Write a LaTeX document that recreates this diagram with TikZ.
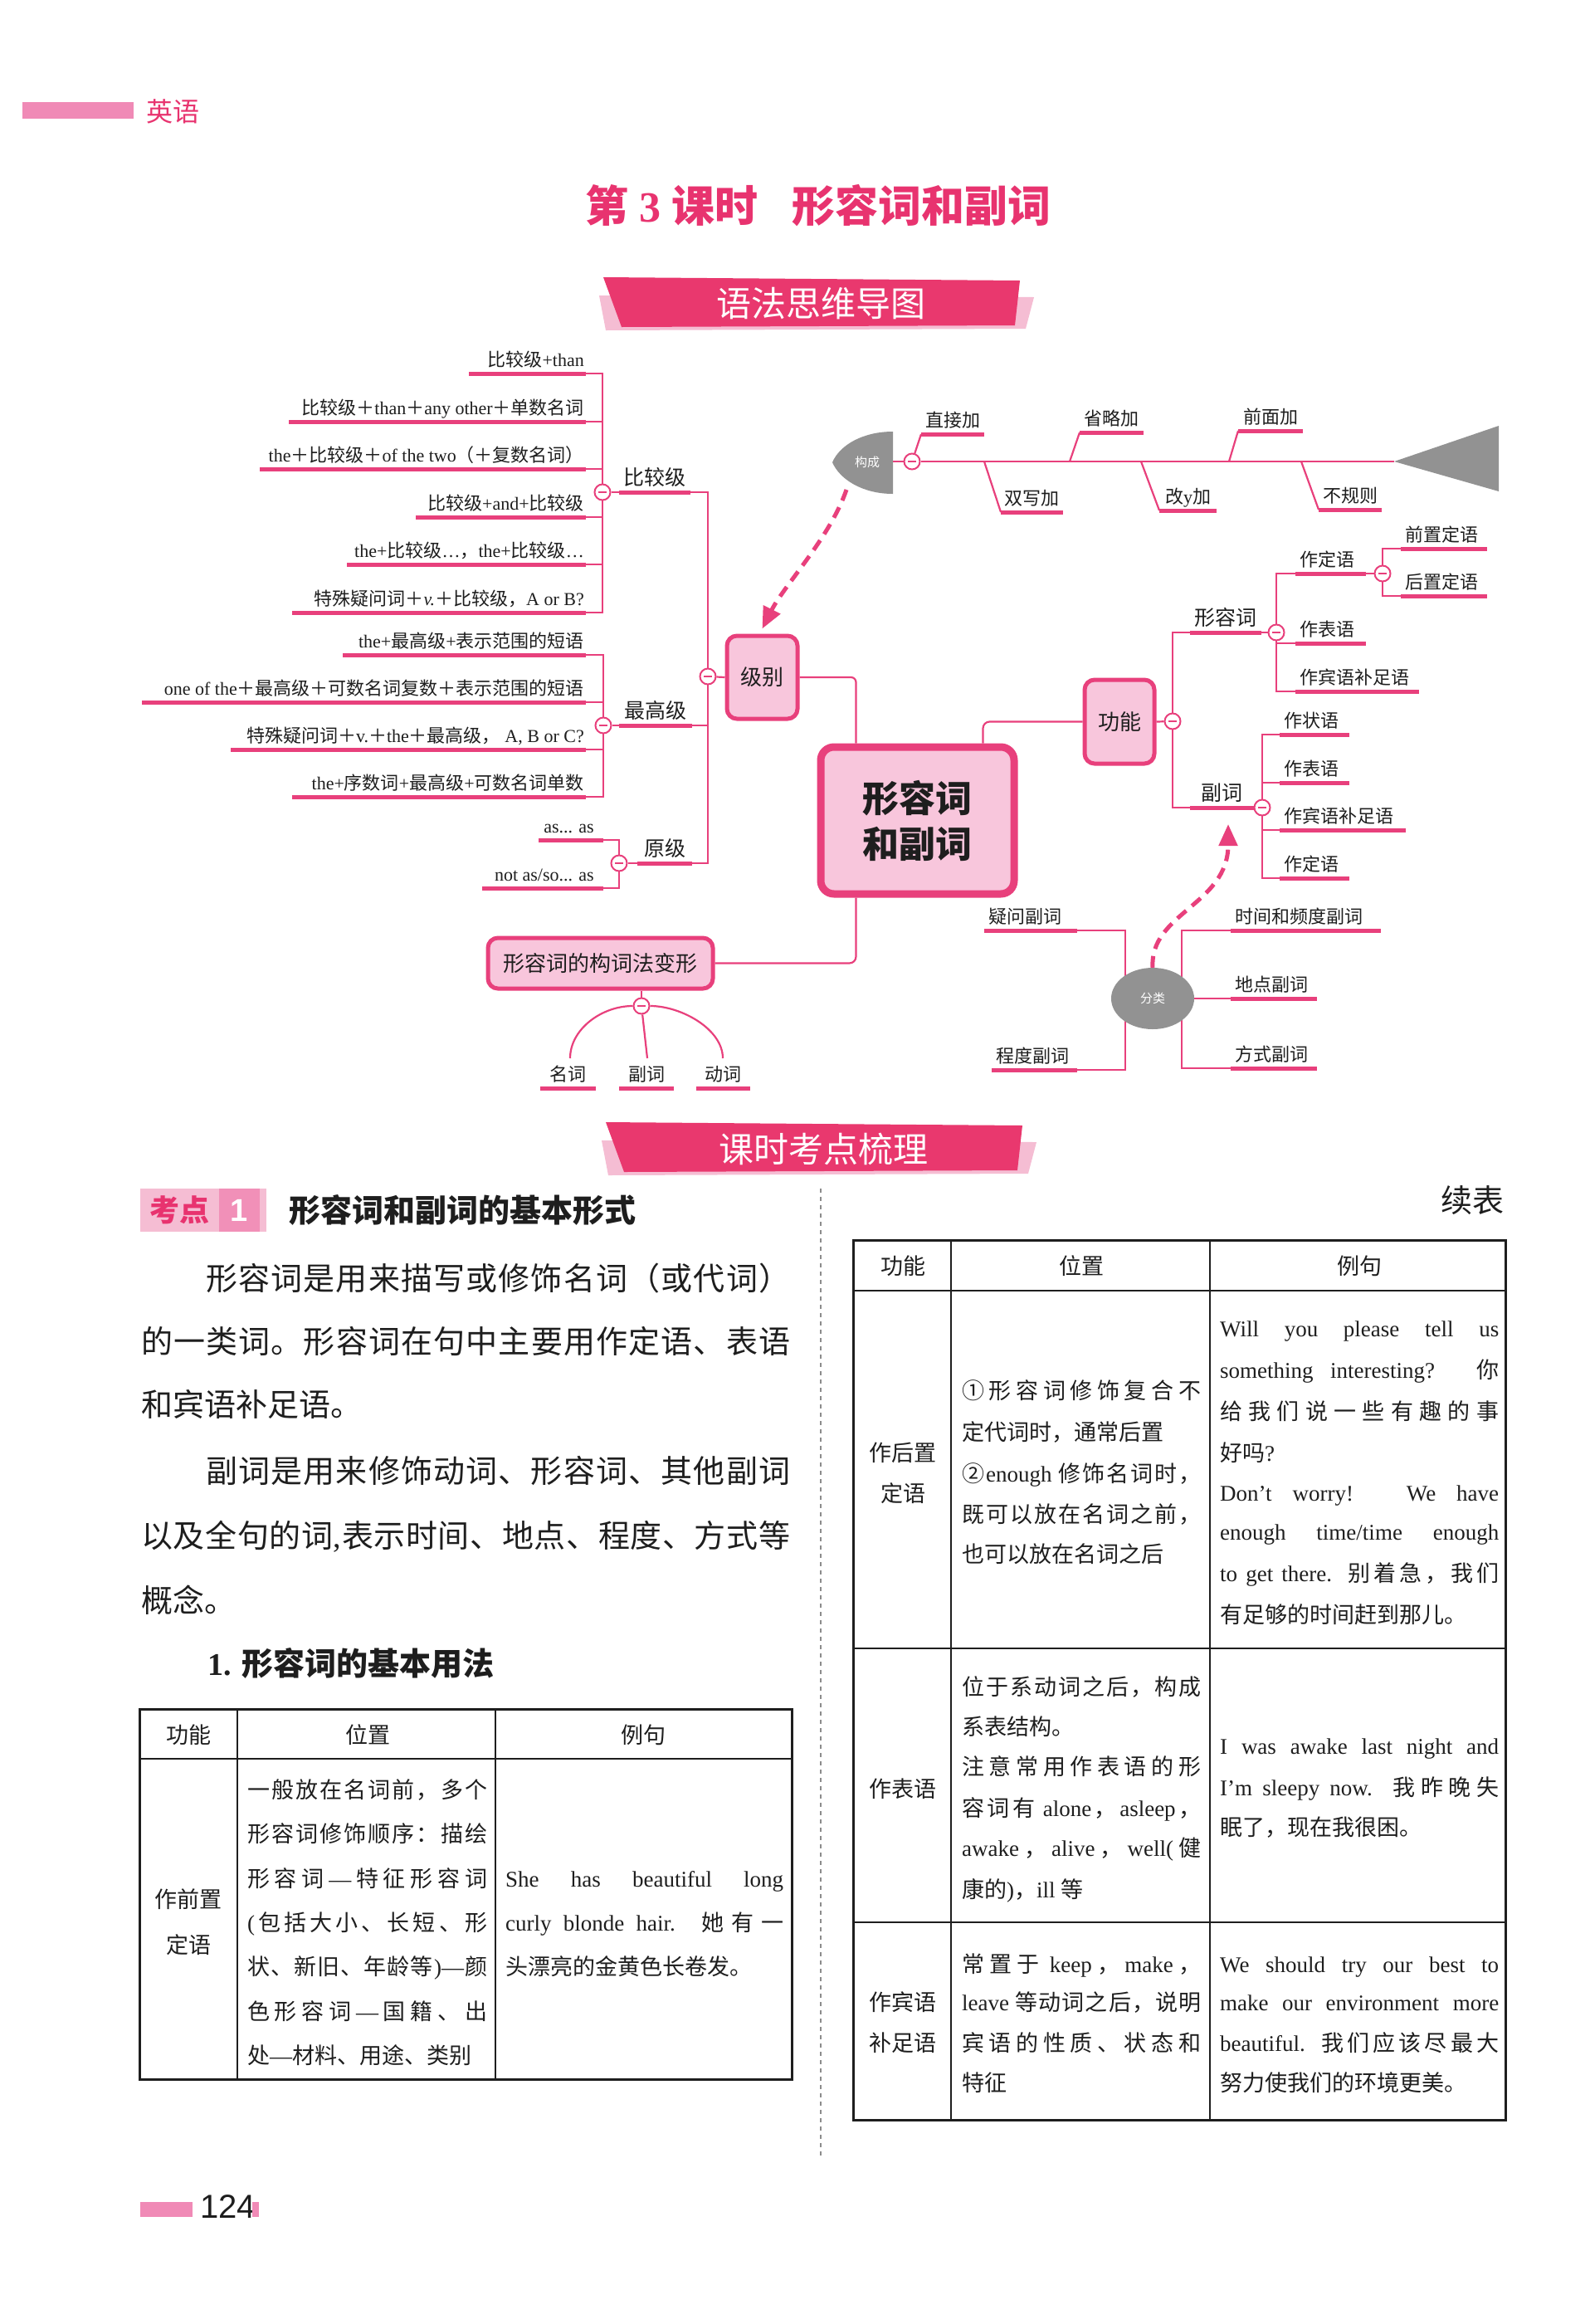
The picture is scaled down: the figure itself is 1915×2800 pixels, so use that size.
\documentclass[tikz,border=0pt]{standalone}
\usepackage{fontspec}
\setmainfont{Liberation Serif}
\newfontfamily\cjk{Noto Sans CJK SC}
\newfontfamily\lsans{Liberation Sans}
\usetikzlibrary{arrows.meta,shapes.geometric}
% ---- automatic CJK font switching ----
\XeTeXinterchartokenstate=1
\newXeTeXintercharclass\CJKcls
\newcount\cjkcnt
\newcommand\setcjkrange[2]{\cjkcnt=#1 \loop\XeTeXcharclass\cjkcnt=\CJKcls\relax\ifnum\cjkcnt<#2 \advance\cjkcnt by 1 \repeat}
\setcjkrange{"4E00}{"9FFF}
\setcjkrange{"3000}{"303F}
\setcjkrange{"FF00}{"FFEF}
\setcjkrange{"2460}{"24FF}
\XeTeXcharclass"2014=0 \XeTeXcharclass"2026=0 \XeTeXcharclass"2019=0
\XeTeXinterchartoks 0 \CJKcls = {\cjk\hskip0pt plus .15em\relax}
\XeTeXinterchartoks 4095 \CJKcls = {\cjk}
\XeTeXinterchartoks \CJKcls 0 = {\hskip0pt plus .15em\relax\rmfamily}
\XeTeXinterchartoks \CJKcls 4095 = {\rmfamily}
\XeTeXinterchartoks \CJKcls \CJKcls = {\hskip0pt plus .15em\relax}
% ---- colours ----
\definecolor{pk}{HTML}{E8407C}
\definecolor{pkfill}{HTML}{F8C6DC}
\definecolor{pktitle}{HTML}{E8336F}
\definecolor{pkban}{HTML}{E9386E}
\definecolor{pklight}{HTML}{F5BDD3}
\definecolor{pkbar}{HTML}{F08AB6}
\definecolor{pkmid}{HTML}{F190B8}
\definecolor{gshape}{HTML}{929292}
\definecolor{txt}{HTML}{1E1E1E}
\pgfdeclarelayer{bg}
\pgfdeclarelayer{paper}
\pgfsetlayers{paper,bg,main}
% ---- helpers ----
\newcommand\lleaf[5]{%
  \coordinate (#1-s) at (#2,#4);
  \coordinate (#1-e) at (#3,#4);
  \draw[uline] (#1-s) -- (#1-e);
  \node[leaf,anchor=base east] (#1) at (#3-2,#4-9) {#5};}
\newcommand\rleaf[5]{%
  \coordinate (#1-s) at (#2,#4);
  \coordinate (#1-e) at (#3,#4);
  \draw[uline] (#1-s) -- (#1-e);
  \node[leaf,anchor=base west] (#1) at (#2+5,#4-9) {#5};}
\newcommand\cleaf[6]{%
  \coordinate (#1-s) at (#2,#4);
  \coordinate (#1-e) at (#3,#4);
  \draw[uline] (#1-s) -- (#1-e);
  \node[#6,anchor=base] (#1) at ({(#2+#3)/2},#4-9) {#5};}
\newcounter{tln}
\newcommand\tj[4]{\stepcounter{tln}\node[tcell,anchor=base west] (tl\arabic{tln}) at (#1,#2) {\makebox[#3pt][s]{#4}};}
\newcommand\tn[3]{\stepcounter{tln}\node[tcell,anchor=base west] (tl\arabic{tln}) at (#1,#2) {#3};}
\newcommand\tc[3]{\stepcounter{tln}\node[tcell,anchor=base] (tl\arabic{tln}) at (#1,#2) {#3};}
\newcommand\pj[4]{\stepcounter{tln}\node[ptext,anchor=base west] (tl\arabic{tln}) at (#1,#2) {\makebox[#3pt][s]{#4}};}
\newcommand\pn[3]{\stepcounter{tln}\node[ptext,anchor=base west] (tl\arabic{tln}) at (#1,#2) {#3};}

\begin{document}
\begin{tikzpicture}[x=1pt,y=-1pt,
  conn/.style={draw=pk,line width=2.2pt},
  uline/.style={draw=pk,line width=5pt},
  leaf/.style={inner sep=0pt,text=txt,font=\fontsize{22}{24}\selectfont},
  lab/.style={inner sep=0pt,text=txt,font=\fontsize{25}{27}\selectfont},
  box/.style={draw=pk,line width=5pt,fill=pkfill,rounded corners=12pt,text=txt,font=\fontsize{26}{28}\selectfont,inner sep=0pt},
  cmk/.style={circle,draw=pk,line width=2pt,fill=white,minimum size=19pt,inner sep=0pt,
    path picture={\draw[pk,line width=2.2pt] ([xshift=-5pt]path picture bounding box.center) -- ([xshift=5pt]path picture bounding box.center);}},
  dasharrow/.style={draw=pk,line width=5pt,dash pattern=on 14pt off 9pt,-{Triangle[length=26pt,width=22pt]}},
  tcell/.style={inner sep=0pt,text=txt,font=\fontsize{27}{30}\selectfont},
  ptext/.style={inner sep=0pt,text=txt,font=\fontsize{38}{40}\selectfont}]
\useasboundingbox (0,0) rectangle (1915,2800);
\begin{pgfonlayer}{paper}
\fill[white] (0,0) rectangle (1915,2800);
\end{pgfonlayer}

% ---------- page header ----------
\fill[pkbar] (27,123) rectangle (161,143);
\node[anchor=west,text=pktitle,font=\fontsize{32}{32}\selectfont,inner sep=0pt] (subj) at (176,134) {英语};
\node[text=pktitle,font=\bfseries\fontsize{52}{52}\selectfont,inner sep=0pt] (title) at (986,248) {第 3 课时\hspace{42pt}形容词和副词};

% banner 1
\fill[pklight] (722,356) -- (1246,358) -- (1236,396) -- (730,398) -- cycle;
\fill[pkban] (727,334) -- (1229,338) -- (1223,392) -- (749,394) -- cycle;
\node[text=white,font=\fontsize{42}{42}\selectfont,inner sep=0pt] (ban1) at (989,366) {语法思维导图};

% ---------- mind map: left ----------
\lleaf{L1}{565}{706}{450}{比较级+than}
\lleaf{L2}{348}{706}{508}{比较级＋than＋any other＋单数名词}
\lleaf{L3}{313}{706}{565}{the＋比较级＋of the two（＋复数名词）}
\lleaf{L4}{501}{706}{623}{比较级+and+比较级}
\lleaf{L5}{418}{706}{680}{the+比较级…，the+比较级…}
\lleaf{L6}{352}{706}{738}{特殊疑问词＋\textit{v.}＋比较级，A or B?}
\lleaf{L7}{413}{706}{789}{the+最高级+表示范围的短语}
\lleaf{L8}{171}{706}{846}{one of the＋最高级＋可数名词复数＋表示范围的短语}
\lleaf{L9}{278}{706}{903}{特殊疑问词＋v.＋the＋最高级，\ A, B or C?}
\lleaf{L10}{352}{706}{960}{the+序数词+最高级+可数名词单数}
\coordinate (L11-s) at (649,1012); \coordinate (L11-e) at (727,1012);
\draw[uline] (L11-s) -- (L11-e);
\node[leaf,anchor=base east] (L11) at (716,1003) {as... as};
\coordinate (L12-s) at (581,1070); \coordinate (L12-e) at (727,1070);
\draw[uline] (L12-s) -- (L12-e);
\node[leaf,anchor=base east] (L12) at (716,1061) {not as/so... as};

\cleaf{BJ}{746}{832}{593}{比较级}{lab}
\cleaf{ZG}{746}{834}{874}{最高级}{lab}
\cleaf{YJ}{768}{834}{1040}{原级}{lab}

\node[cmk] (cA) at (726,593) {};
\node[cmk] (cB) at (727,874) {};
\node[cmk] (cC) at (746,1040) {};
\node[cmk] (cJ) at (853,815) {};

\node[box,minimum width=85pt,minimum height=100pt] (jibie) at (918.5,816) {级别};
\node[box,line width=9pt,rounded corners=16pt,minimum width=233pt,minimum height=177pt,font=\bfseries\fontsize{44}{55}\selectfont,align=center] (ctr) at (1105.5,988.5) {形容词\\和副词};
\node[box,minimum width=84pt,minimum height=101pt] (gn) at (1349,869.5) {功能};
\node[box,minimum width=271pt,minimum height=61pt] (gc) at (723.5,1160.5) {形容词的构词法变形};

% ---------- mind map: right (function) ----------
\cleaf{XR}{1434}{1520}{762}{形容词}{lab}
\cleaf{FR}{1434}{1511}{973}{副词}{lab}
\rleaf{ZD}{1561}{1646}{691}{作定语}
\rleaf{QZ}{1688}{1792}{661}{前置定语}
\rleaf{HZ}{1688}{1792}{718}{后置定语}
\rleaf{ZB}{1561}{1646}{775}{作表语}
\rleaf{ZBB}{1561}{1710}{833}{作宾语补足语}
\rleaf{FZ}{1542}{1626}{885}{作状语}
\rleaf{FB}{1542}{1626}{943}{作表语}
\rleaf{FBB}{1542}{1694}{1000}{作宾语补足语}
\rleaf{FD}{1542}{1626}{1058}{作定语}
\node[cmk] (cG) at (1413,869) {};
\node[cmk] (cX) at (1538,762) {};
\node[cmk] (cD) at (1666,691) {};
\node[cmk] (cF) at (1521,973) {};

% ---------- fishbone (构成) ----------
\fill[gshape] (1076,520) -- (1076,595) .. controls (1040,595) and (1012,578) .. (1003,557) .. controls (1012,536) and (1040,520) .. (1076,520) -- cycle;
\node[text=white,font=\fontsize{15}{15}\selectfont,inner sep=0pt] (gcl) at (1045,557) {构成};
\coordinate (gcR) at (1076,556);
\coordinate (gcB) at (1020,590);
\coordinate (tri) at (1680,556);
\fill[gshape] (tri) -- (1806,513) -- (1806,592) -- cycle;
\node[cmk] (cGC) at (1099,556) {};
\cleaf{ZJ}{1110}{1186}{523}{直接加}{leaf}
\cleaf{SL}{1301}{1378}{521}{省略加}{leaf}
\cleaf{QM}{1492}{1570}{519}{前面加}{leaf}
\cleaf{SX}{1206}{1281}{617}{双写加}{leaf}
\cleaf{GY}{1397}{1466}{615}{改y加}{leaf}
\cleaf{BG}{1589}{1665}{614}{不规则}{leaf}
\coordinate (f2) at (1289,556);
\coordinate (f3) at (1481,556);
\coordinate (f4) at (1186,556);
\coordinate (f5) at (1375,556);
\coordinate (f6) at (1568,556);

% ---------- 分类 ----------
\coordinate (flL) at (1356,1203);
\coordinate (flR) at (1424,1203);
\rleaf{YW}{1186}{1298}{1121}{疑问副词}
\rleaf{CD}{1195}{1298}{1289}{程度副词}
\rleaf{SJ}{1483}{1664}{1121}{时间和频度副词}
\rleaf{DD}{1483}{1587}{1203}{地点副词}
\rleaf{FS}{1483}{1587}{1287}{方式副词}
\coordinate (fuA) at (1480,993);

% ---------- 构词法 children ----------
\node[cmk] (cW) at (773,1212) {};
\cleaf{MC}{651}{718}{1311}{名词}{leaf}
\cleaf{FC}{746}{812}{1311}{副词}{leaf}
\cleaf{DC}{839}{904}{1311}{动词}{leaf}
\coordinate (MCt) at (687,1275);
\coordinate (FCt) at (780,1275);
\coordinate (DCt) at (871,1275);

% ---------- connectors ----------
\begin{pgfonlayer}{bg}
\draw[conn] (L1-e) -- (L1-e -| cA) -- (L6-e -| cA) -- (L6-e);
\foreach \n in {L2,L3,L4,L5} \draw[conn] (\n-e) -- (\n-e -| cA);
\draw[conn] (cA) -- (BJ-s);
\draw[conn] (L7-e) -- (L7-e -| cB) -- (L10-e -| cB) -- (L10-e);
\foreach \n in {L8,L9} \draw[conn] (\n-e) -- (\n-e -| cB);
\draw[conn] (cB) -- (ZG-s);
\draw[conn] (L11-e) -- (L11-e -| cC) -- (L12-e -| cC) -- (L12-e);
\draw[conn] (cC) -- (YJ-s);
\draw[conn] (BJ-e) -- (BJ-e -| cJ) -- (YJ-e -| cJ) -- (YJ-e);
\draw[conn] (ZG-e) -- (ZG-e -| cJ);
\draw[conn] (cJ) -- (jibie.west);
\draw[conn,rounded corners=6pt] (jibie.east) -| ([xshift=47pt]ctr.north west);
\draw[conn,rounded corners=8pt] ([xshift=-42pt]ctr.north east) |- (gn.west);
\draw[conn,rounded corners=8pt] ([xshift=47pt]ctr.south west) |- (gc.east);
% function side
\draw[conn] (gn.east) -- (cG);
\draw[conn] (XR-s) -- (XR-s -| cG) -- (FR-s -| cG) -- (FR-s);
\draw[conn] (XR-e) -- (cX);
\draw[conn] (ZD-s) -- (ZD-s -| cX) -- (ZBB-s -| cX) -- (ZBB-s);
\draw[conn] (ZB-s) -- (ZB-s -| cX);
\draw[conn] (ZD-e) -- (cD);
\draw[conn] (QZ-s) -- (QZ-s -| cD) -- (HZ-s -| cD) -- (HZ-s);
\draw[conn] (FR-e) -- (cF);
\draw[conn] (FZ-s) -- (FZ-s -| cF) -- (FD-s -| cF) -- (FD-s);
\draw[conn] (FB-s) -- (FB-s -| cF);
\draw[conn] (FBB-s) -- (FBB-s -| cF);
% fishbone
\draw[conn] (gcR) -- (cGC) -- (tri);
\draw[conn] (cGC) -- (ZJ-s);
\draw[conn] (f2) -- (SL-s);
\draw[conn] (f3) -- (QM-s);
\draw[conn] (f4) -- (SX-s);
\draw[conn] (f5) -- (GY-s);
\draw[conn] (f6) -- (BG-s);
% classification
\draw[conn] (YW-e) -- (YW-e -| flL) -- (CD-e -| flL) -- (CD-e);
\draw[conn] (SJ-s) -- (SJ-s -| flR) -- (FS-s -| flR) -- (FS-s);
\draw[conn] (flR) -- (DD-s);
% word formation
\draw[conn] (gc.south -| cW) -- (cW);
\draw[conn] (cW) .. controls (725,1212) and (687,1240) .. (MCt);
\draw[conn] (cW) -- (FCt);
\draw[conn] (cW) .. controls (821,1212) and (871,1240) .. (DCt);
\end{pgfonlayer}

\node[ellipse,fill=gshape,minimum width=100pt,minimum height=74pt,inner sep=0pt,text=white,font=\fontsize{15}{15}\selectfont] (fl) at (1389,1203) {分类};

\draw[dasharrow] (gcB) .. controls (1000,648) and (945,705) .. ([yshift=6pt]jibie.north);
\draw[dasharrow] (fl.north) .. controls (1385,1100) and (1480,1090) .. (fuA);

% ---------- section 2 ----------
\fill[pklight] (725,1374) -- (1249,1376) -- (1239,1414) -- (733,1416) -- cycle;
\fill[pkban] (730,1352) -- (1232,1356) -- (1226,1410) -- (752,1412) -- cycle;
\node[text=white,font=\fontsize{42}{42}\selectfont,inner sep=0pt] (ban2) at (992,1384) {课时考点梳理};

\fill[pklight] (169,1432) rectangle (321,1484);
\fill[pkmid] (264,1432) rectangle (313,1484);
\node[text=pktitle,font=\bfseries\fontsize{36}{36}\selectfont,inner sep=0pt] (kd) at (216,1458) {考点};
\node[text=white,font=\lsans\bfseries\fontsize{38}{38}\selectfont,inner sep=0pt] (kd1) at (288,1458) {1};
\node[anchor=base west,text=txt,font=\bfseries\fontsize{38}{38}\selectfont,inner sep=0pt] (kdt) at (348,1472) {形容词和副词的基本形式};

\pj{248}{1554}{704}{形容词是用来描写或修饰名词（或代词）}
\pj{170}{1630}{782}{的一类词。形容词在句中主要用作定语、表语}
\pn{170}{1706}{和宾语补足语。}
\pj{248}{1786}{704}{副词是用来修饰动词、形容词、其他副词}
\pj{170}{1864}{782}{以及全句的词,表示时间、地点、程度、方式等}
\pn{170}{1942}{概念。}
\node[anchor=base west,text=txt,font=\bfseries\fontsize{38}{38}\selectfont,inner sep=0pt] (h1) at (250,2018) {1. 形容词的基本用法};

\draw[black!45,line width=1.2pt,dash pattern=on 5pt off 5pt] (989,1432) -- (989,2600);

% ---------- left table ----------
\draw[txt,line width=3pt] (168,2059) rectangle (954,2505);
\draw[txt,line width=1.5pt] (168,2119) -- (954,2119);
\draw[txt,line width=1.5pt] (286,2059) -- (286,2505);
\draw[txt,line width=1.5pt] (597,2059) -- (597,2505);
\tc{227}{2100}{功能}
\tc{443}{2100}{位置}
\tc{775}{2100}{例句}
\tc{227}{2298}{作前置}
\tc{227}{2353}{定语}
\tj{298}{2166}{289}{一般放在名词前，多个}
\tj{298}{2219}{289}{形容词修饰顺序：描绘}
\tj{298}{2273}{289}{形容词—特征形容词}
\tj{298}{2326}{289}{(包括大小、长短、形}
\tj{298}{2379}{289}{状、新旧、年龄等)—颜}
\tj{298}{2433}{289}{色形容词—国籍、出}
\tn{298}{2486}{处—材料、用途、类别}
\tj{609}{2273}{335}{She has beautiful long}
\tj{609}{2326}{335}{curly blonde hair. 她有一}
\tn{609}{2379}{头漂亮的金黄色长卷发。}

% ---------- right table ----------
\node[anchor=base east,text=txt,font=\fontsize{38}{38}\selectfont,inner sep=0pt] (xb) at (1813,1460) {续表};
\draw[txt,line width=3pt] (1028,1494) rectangle (1814,2554);
\draw[txt,line width=1.5pt] (1028,1555) -- (1814,1555);
\draw[txt,line width=1.5pt] (1028,1986) -- (1814,1986);
\draw[txt,line width=1.5pt] (1028,2316) -- (1814,2316);
\draw[txt,line width=1.5pt] (1146,1494) -- (1146,2554);
\draw[txt,line width=1.5pt] (1458,1494) -- (1458,2554);
\tc{1088}{1535}{功能}
\tc{1303}{1535}{位置}
\tc{1638}{1535}{例句}
\tc{1088}{1760}{作后置}
\tc{1088}{1809}{定语}
\tj{1159}{1685}{288}{①形容词修饰复合不}
\tn{1159}{1735}{定代词时，通常后置}
\tj{1159}{1785}{288}{②enough 修饰名词时，}
\tj{1159}{1834}{288}{既可以放在名词之前，}
\tn{1159}{1882}{也可以放在名词之后}
\tj{1470}{1610}{336}{Will you please tell us}
\tj{1470}{1660}{336}{something interesting? 你}
\tj{1470}{1710}{336}{给我们说一些有趣的事}
\tn{1470}{1760}{好吗?}
\tj{1470}{1808}{336}{Don’t worry! We have}
\tj{1470}{1855}{336}{enough time/time enough}
\tj{1470}{1905}{336}{to get there. 别着急，我们}
\tn{1470}{1955}{有足够的时间赶到那儿。}
\tc{1088}{2165}{作表语}
\tj{1159}{2042}{288}{位于系动词之后，构成}
\tn{1159}{2090}{系表结构。}
\tj{1159}{2138}{288}{注意常用作表语的形}
\tj{1159}{2188}{288}{容词有 alone，asleep，}
\tj{1159}{2236}{288}{awake，alive，well(健}
\tn{1159}{2286}{康的)，ill 等}
\tj{1470}{2113}{336}{I was awake last night and}
\tj{1470}{2163}{336}{I’m sleepy now. 我昨晚失}
\tn{1470}{2211}{眠了，现在我很困。}
\tc{1088}{2422}{作宾语}
\tc{1088}{2471}{补足语}
\tj{1159}{2376}{288}{常置于 keep，make，}
\tj{1159}{2422}{288}{leave 等动词之后，说明}
\tj{1159}{2471}{288}{宾语的性质、状态和}
\tn{1159}{2519}{特征}
\tj{1470}{2376}{336}{We should try our best to}
\tj{1470}{2422}{336}{make our environment more}
\tj{1470}{2471}{336}{beautiful. 我们应该尽最大}
\tn{1470}{2519}{努力使我们的环境更美。}

% ---------- footer ----------
\fill[pkbar] (169,2653) rectangle (232,2671);
\node[anchor=base west,text=txt,font=\lsans\fontsize{40}{40}\selectfont,inner sep=0pt] (pg) at (241,2672) {124};
\fill[pkbar] (304,2653) rectangle (312,2671);
\end{tikzpicture}
\end{document}
